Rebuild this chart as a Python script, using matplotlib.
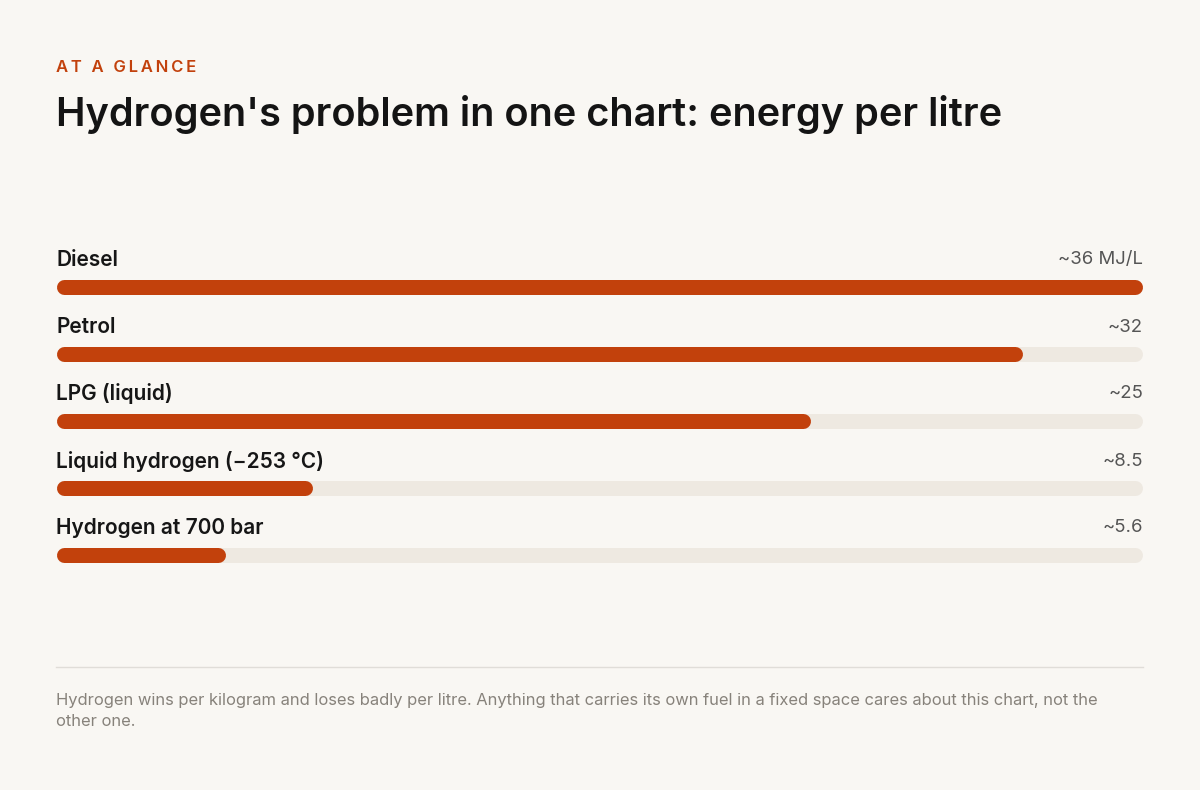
import numpy as np
import matplotlib
matplotlib.use("Agg")
import matplotlib.pyplot as plt

plt.rcParams['font.family'] = ['Inter', 'DejaVu Sans']

fuels = ["Diesel", "Petrol", "LPG (liquid)", "Liquid hydrogen (\u2212253 \u00b0C)", "Hydrogen at 700 bar"]
values = [36, 32, 25, 8.5, 5.6]
value_labels = ["~36 MJ/L", "~32", "~25", "~8.5", "~5.6"]

bg = "#F9F7F3"
accent = "#C2410C"
track = "#EEE9E1"

W, H = 1200, 790
fig = plt.figure(figsize=(12, 7.9), dpi=100, facecolor=bg)

def fy(py):
    return 1 - py / H

# header
kicker = "\u2009".join("AT A GLANCE")
fig.text(56 / W, fy(67), kicker, color=accent, fontsize=12, fontweight="semibold", va="center", ha="left")
fig.text(56 / W, fy(114), "Hydrogen's problem in one chart: energy per litre", color="#141414",
         fontsize=28.6, fontweight="semibold", va="center", ha="left")

# bar area
x0, x1 = 56, 1143
top_px, bot_px = 220, 600
ax = fig.add_axes([x0 / W, fy(bot_px), (x1 - x0) / W, (bot_px - top_px) / H])
ax.set_facecolor("none")
row_px = 67
first_px = 287
ax.set_xlim(0, max(values))
ax.set_ylim((bot_px - first_px) / row_px, (top_px - first_px) / row_px)
ax.axis("off")

bar_px = 15
lw = bar_px * 72 / 100
r = (bar_px / 2) / (x1 - x0) * max(values)
for i, (name, v, lab) in enumerate(zip(fuels, values, value_labels)):
    ax.plot([r, max(values) - r], [i, i], color=track, lw=lw, solid_capstyle="round")
    ax.plot([r, v - r], [i, i], color=accent, lw=lw, solid_capstyle="round")
    ly = i - (first_px - 260) / row_px
    ax.text(0, ly, name, fontsize=15, fontweight="semibold", color="#161616", va="center", ha="left")
    ax.text(max(values), ly, lab, fontsize=13.4, color="#555555", va="center", ha="right")

# divider and footnote
fig.add_artist(plt.Line2D([x0 / W, x1 / W], [fy(667), fy(667)], color="#E0DDD8", lw=1))
fig.text(56 / W, fy(711),
         "Hydrogen wins per kilogram and loses badly per litre. Anything that carries its own fuel in a fixed space cares about this chart, not the\nother one.",
         fontsize=11.9, color="#87827B", va="center", ha="left", linespacing=1.55)

fig.savefig("out.png", dpi=100, facecolor=bg)
